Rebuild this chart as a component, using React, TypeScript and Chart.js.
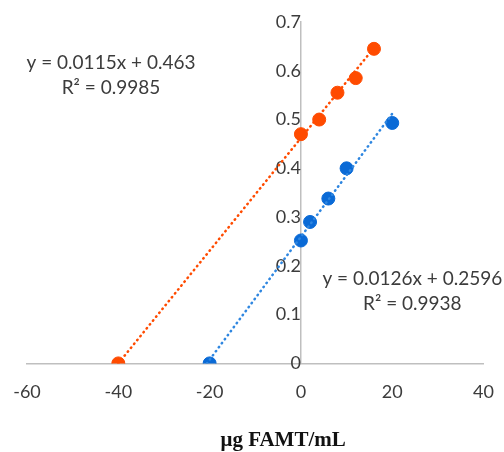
import React, { useEffect, useRef } from "react";
import { Chart, registerables } from "chart.js";

Chart.register(...registerables);

const orangeX = [0, 4, 8, 12, 16, -40];
const orangeY = [0.47, 0.5, 0.555, 0.585, 0.645, 0];
const blueX = [0, 2, 6, 10, 20, -20];
const blueY = [0.252, 0.29, 0.338, 0.4, 0.493, 0];
const orangeTrendX = [-40, 16];
const orangeTrendY = [0, 0.647];
const blueTrendX = [-20.6, 20];
const blueTrendY = [0, 0.512];
const orangeLabel = ["y = 0.0115x + 0.463", "R² = 0.9985"];
const blueLabel = ["y = 0.0126x + 0.2596", "R² = 0.9938"];
const xTitle = "μg FAMT/mL";

const ORANGE = "#FF4B00";
const BLUE = "#0A6AD6";

const pts = (xs: number[], ys: number[]) => xs.map((x, i) => ({ x, y: ys[i] }));

const textPlugin = {
  id: "texts",
  afterDraw(chart: any) {
    const ctx = chart.ctx;
    const xs = chart.scales.x;
    const ys = chart.scales.y;
    ctx.save();
    ctx.fillStyle = "#3c3c3c";
    ctx.font = "19px Lato";
    ctx.textAlign = "center";
    ctx.textBaseline = "middle";
    const ox = xs.getPixelForValue(-41.6);
    const oy = ys.getPixelForValue(0.617);
    ctx.fillText(orangeLabel[0], ox, oy);
    ctx.fillText(orangeLabel[1], ox, oy + 25);
    const bx = xs.getPixelForValue(24.4);
    const by = ys.getPixelForValue(0.174);
    ctx.fillText(blueLabel[0], bx, by);
    ctx.fillText(blueLabel[1], bx, by + 25);
    ctx.fillStyle = "#111";
    ctx.font = "bold 21px 'Liberation Serif'";
    ctx.fillText(xTitle, xs.getPixelForValue(-3.9), 441);
    ctx.restore();
  },
};

export default function App() {
  const ref = useRef<HTMLCanvasElement>(null);
  useEffect(() => {
    if (!ref.current) return;
    const dotted = {
      showLine: true,
      pointRadius: 0,
      borderWidth: 2.5,
      borderDash: [0.5, 4.5],
      borderCapStyle: "round" as const,
    };
    const chart = new Chart(ref.current, {
      type: "scatter",
      data: {
        datasets: [
          {
            data: pts(orangeTrendX, orangeTrendY),
            borderColor: ORANGE,
            ...dotted,
          },
          {
            data: pts(blueTrendX, blueTrendY),
            borderColor: "#2E86E0",
            ...dotted,
          },
          {
            data: pts(orangeX, orangeY),
            backgroundColor: ORANGE,
            borderColor: ORANGE,
            pointRadius: 6.5,
          },
          {
            data: pts(blueX, blueY),
            backgroundColor: BLUE,
            borderColor: BLUE,
            pointRadius: 6.5,
          },
        ],
      },
      options: {
        animation: false,
        responsive: false,
        layout: { padding: { left: 27, right: 11, top: 22, bottom: 39 } },
        plugins: { legend: { display: false }, tooltip: { enabled: false } },
        scales: {
          x: {
            type: "linear",
            position: "bottom",
            min: -60,
            max: 40,
            grid: { display: false },
            border: { display: true, color: "#BFBFBF", width: 1.5 },
            ticks: {
              stepSize: 20,
              color: "#3c3c3c",
              font: { family: "Lato", size: 18 },
              padding: 10,
              maxRotation: 0,
            },
          },
          y: {
            type: "linear",
            position: { x: 0 } as any,
            min: 0,
            max: 0.7,
            grid: { display: false },
            border: { display: true, color: "#BFBFBF", width: 1.5 },
            afterFit: (s: any) => {
              s.paddingTop = 0;
              s.paddingBottom = 0;
            },
            ticks: {
              stepSize: 0.1,
              color: "#3c3c3c",
              font: { family: "Lato", size: 18 },
              padding: 18,
              callback: (v: any) => String(Math.round(Number(v) * 10) / 10),
            },
          },
        },
      },
      plugins: [textPlugin],
    });
    return () => chart.destroy();
  }, []);
  return (
    <div style={{ position: "fixed", left: 0, top: 0, width: 504, height: 452, background: "#fff" }}>
      <canvas ref={ref} width={504} height={452} />
    </div>
  );
}
